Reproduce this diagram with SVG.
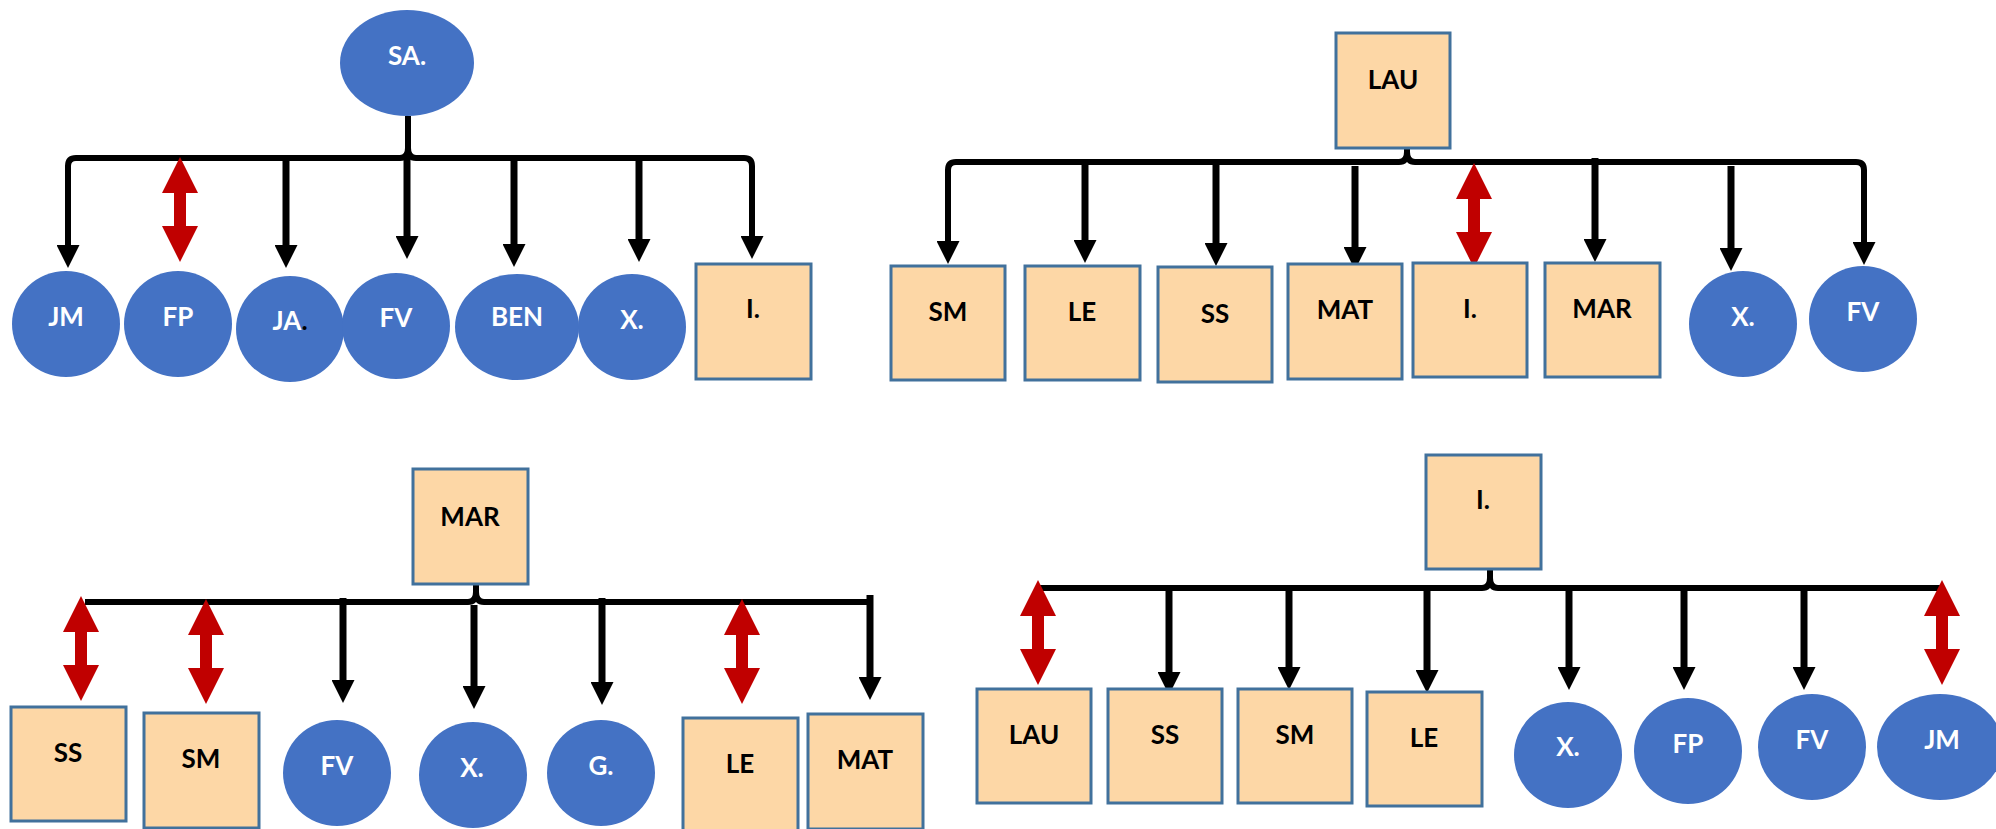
<svg xmlns="http://www.w3.org/2000/svg" xmlns:xlink="http://www.w3.org/1999/xlink" width="1996" height="829" viewBox="0 0 1996 829">
<style>
.ell{fill:#4472C4}
.box{fill:#FDD7A6;stroke:#41719C;stroke-width:3}
.t{font-family:Lato,"Open Sans","Liberation Sans",sans-serif;font-weight:700;font-size:26px;text-anchor:middle}
.tw{fill:#FFFFFF}
.tb{fill:#000000}
.ln{fill:none;stroke:#000;stroke-width:7}
.bar{fill:none;stroke:#000;stroke-width:6;stroke-linejoin:round}
.red{fill:#C00000}
</style>
<defs>
<marker id="ah" markerUnits="userSpaceOnUse" viewBox="0 0 23 23" markerWidth="23" markerHeight="23" refX="1" refY="11.5" orient="auto">
<path d="M0,0 L23,11.5 L0,23 Z" fill="#000"/>
</marker>
<path id="dbl" d="M0,0 L18,36 L6,36 L6,69 L18,69 L0,105 L-18,69 L-6,69 L-6,36 L-18,36 Z"/>
</defs>
<rect width="1996" height="829" fill="#FFFFFF"/>

<g id="connectors">
<!-- Panel 1 -->
<path class="bar" d="M408,116 L408,148 Q408,158 400,158 L76,158 Q68,158 68,166 L68,246" marker-end="url(#ah)"/>
<path class="bar" d="M408,148 Q408,158 416,158 L744,158 Q752,158 752,166 L752,237" marker-end="url(#ah)"/>
<line class="ln" x1="286" y1="160" x2="286" y2="246" marker-end="url(#ah)"/>
<line class="ln" x1="407" y1="158" x2="407" y2="237" marker-end="url(#ah)"/>
<line class="ln" x1="514" y1="160" x2="514" y2="245" marker-end="url(#ah)"/>
<line class="ln" x1="639" y1="158" x2="639" y2="240" marker-end="url(#ah)"/>
<use xlink:href="#dbl" href="#dbl" class="red" x="180" y="157"/>
<!-- Panel 2 -->
<path class="bar" d="M1407,148 L1407,152 Q1407,162 1399,162 L956,162 Q948,162 948,170 L948,242" marker-end="url(#ah)"/>
<path class="bar" d="M1407,152 Q1407,162 1415,162 L1856,162 Q1864,162 1864,170 L1864,243" marker-end="url(#ah)"/>
<line class="ln" x1="1085" y1="162" x2="1085" y2="241" marker-end="url(#ah)"/>
<line class="ln" x1="1216" y1="162" x2="1216" y2="244" marker-end="url(#ah)"/>
<line class="ln" x1="1355" y1="166" x2="1355" y2="248" marker-end="url(#ah)"/>
<line class="ln" x1="1595" y1="158" x2="1595" y2="240" marker-end="url(#ah)"/>
<line class="ln" x1="1731" y1="166" x2="1731" y2="249" marker-end="url(#ah)"/>
<use xlink:href="#dbl" href="#dbl" class="red" x="1474" y="163"/>
<!-- Panel 3 -->
<path class="bar" d="M476,584 L476,592 Q476,602 468,602 L85,602"/>
<path class="bar" d="M476,592 Q476,602 484,602 L870,602"/>
<line class="ln" x1="343" y1="598" x2="343" y2="681" marker-end="url(#ah)"/>
<line class="ln" x1="474" y1="605" x2="474" y2="687" marker-end="url(#ah)"/>
<line class="ln" x1="602" y1="598" x2="602" y2="683" marker-end="url(#ah)"/>
<line class="ln" x1="870" y1="595" x2="870" y2="678" marker-end="url(#ah)"/>
<use xlink:href="#dbl" href="#dbl" class="red" x="81" y="596"/>
<use xlink:href="#dbl" href="#dbl" class="red" x="206" y="599"/>
<use xlink:href="#dbl" href="#dbl" class="red" x="742" y="599"/>
<!-- Panel 4 -->
<path class="bar" d="M1490,569 L1490,578 Q1490,588 1482,588 L1038,588"/>
<path class="bar" d="M1490,578 Q1490,588 1498,588 L1942,588"/>
<line class="ln" x1="1169" y1="588" x2="1169" y2="673" marker-end="url(#ah)"/>
<line class="ln" x1="1289" y1="588" x2="1289" y2="668" marker-end="url(#ah)"/>
<line class="ln" x1="1427" y1="588" x2="1427" y2="671" marker-end="url(#ah)"/>
<line class="ln" x1="1569" y1="588" x2="1569" y2="668" marker-end="url(#ah)"/>
<line class="ln" x1="1684" y1="588" x2="1684" y2="668" marker-end="url(#ah)"/>
<line class="ln" x1="1804" y1="588" x2="1804" y2="668" marker-end="url(#ah)"/>
<use xlink:href="#dbl" href="#dbl" class="red" x="1038" y="580"/>
<use xlink:href="#dbl" href="#dbl" class="red" x="1942" y="580"/>
</g>

<!-- Panel 1 nodes -->
<g id="p1-SA"><ellipse class="ell" cx="407" cy="63" rx="67" ry="53"/><text class="t tw" x="407" y="65">SA.</text></g>
<g id="p1-JM"><ellipse class="ell" cx="66" cy="324" rx="54" ry="53"/><text class="t tw" x="66" y="326">JM</text></g>
<g id="p1-FP"><ellipse class="ell" cx="178" cy="324" rx="54" ry="53"/><text class="t tw" x="178" y="326">FP</text></g>
<g id="p1-JA"><ellipse class="ell" cx="290" cy="329" rx="54" ry="53"/><text class="t tw" x="290" y="330">JA<tspan class="tb">.</tspan></text></g>
<g id="p1-FV"><ellipse class="ell" cx="396" cy="326" rx="54" ry="53"/><text class="t tw" x="396" y="327">FV</text></g>
<g id="p1-BEN"><ellipse class="ell" cx="517" cy="327" rx="62" ry="53"/><text class="t tw" x="517" y="326">BEN</text></g>
<g id="p1-X"><ellipse class="ell" cx="632" cy="327" rx="54" ry="53"/><text class="t tw" x="632" y="329">X.</text></g>
<g id="p1-I"><rect class="box" x="696" y="264" width="115" height="115"/><text class="t tb" x="753" y="318">I.</text></g>

<!-- Panel 2 nodes -->
<g id="p2-LAU"><rect class="box" x="1336" y="33" width="114" height="115"/><text class="t tb" x="1393" y="89">LAU</text></g>
<g id="p2-SM"><rect class="box" x="891" y="266" width="114" height="114"/><text class="t tb" x="948" y="321">SM</text></g>
<g id="p2-LE"><rect class="box" x="1025" y="266" width="115" height="114"/><text class="t tb" x="1082" y="321">LE</text></g>
<g id="p2-SS"><rect class="box" x="1158" y="267" width="114" height="115"/><text class="t tb" x="1215" y="323">SS</text></g>
<g id="p2-MAT"><rect class="box" x="1288" y="264" width="114" height="115"/><text class="t tb" x="1345" y="319">MAT</text></g>
<g id="p2-I"><rect class="box" x="1413" y="263" width="114" height="114"/><text class="t tb" x="1470" y="318">I.</text></g>
<g id="p2-MAR"><rect class="box" x="1545" y="263" width="115" height="114"/><text class="t tb" x="1602" y="318">MAR</text></g>
<g id="p2-X"><ellipse class="ell" cx="1743" cy="324" rx="54" ry="53"/><text class="t tw" x="1743" y="326">X.</text></g>
<g id="p2-FV"><ellipse class="ell" cx="1863" cy="319" rx="54" ry="53"/><text class="t tw" x="1863" y="321">FV</text></g>

<!-- Panel 3 nodes -->
<g id="p3-MAR"><rect class="box" x="413" y="469" width="115" height="115"/><text class="t tb" x="470" y="526">MAR</text></g>
<g id="p3-SS"><rect class="box" x="11" y="707" width="115" height="114"/><text class="t tb" x="68" y="762">SS</text></g>
<g id="p3-SM"><rect class="box" x="144" y="713" width="115" height="115"/><text class="t tb" x="201" y="768">SM</text></g>
<g id="p3-FV"><ellipse class="ell" cx="337" cy="773" rx="54" ry="53"/><text class="t tw" x="337" y="775">FV</text></g>
<g id="p3-X"><ellipse class="ell" cx="473" cy="775" rx="54" ry="53"/><text class="t tw" x="472" y="777">X.</text></g>
<g id="p3-G"><ellipse class="ell" cx="601" cy="773" rx="54" ry="53"/><text class="t tw" x="601" y="775">G.</text></g>
<g id="p3-LE"><rect class="box" x="683" y="718" width="115" height="115"/><text class="t tb" x="740" y="773">LE</text></g>
<g id="p3-MAT"><rect class="box" x="808" y="714" width="115" height="115"/><text class="t tb" x="865" y="769">MAT</text></g>

<!-- Panel 4 nodes -->
<g id="p4-I"><rect class="box" x="1426" y="455" width="115" height="114"/><text class="t tb" x="1483" y="509">I.</text></g>
<g id="p4-LAU"><rect class="box" x="977" y="689" width="114" height="114"/><text class="t tb" x="1034" y="744">LAU</text></g>
<g id="p4-SS"><rect class="box" x="1108" y="689" width="114" height="114"/><text class="t tb" x="1165" y="744">SS</text></g>
<g id="p4-SM"><rect class="box" x="1238" y="689" width="114" height="114"/><text class="t tb" x="1295" y="744">SM</text></g>
<g id="p4-LE"><rect class="box" x="1367" y="692" width="115" height="114"/><text class="t tb" x="1424" y="747">LE</text></g>
<g id="p4-X"><ellipse class="ell" cx="1568" cy="755" rx="54" ry="53"/><text class="t tw" x="1568" y="756">X.</text></g>
<g id="p4-FP"><ellipse class="ell" cx="1688" cy="751" rx="54" ry="53"/><text class="t tw" x="1688" y="753">FP</text></g>
<g id="p4-FV"><ellipse class="ell" cx="1812" cy="747" rx="54" ry="53"/><text class="t tw" x="1812" y="749">FV</text></g>
<g id="p4-JM"><ellipse class="ell" cx="1940" cy="747" rx="63" ry="53"/><text class="t tw" x="1942" y="749">JM</text></g>
</svg>
